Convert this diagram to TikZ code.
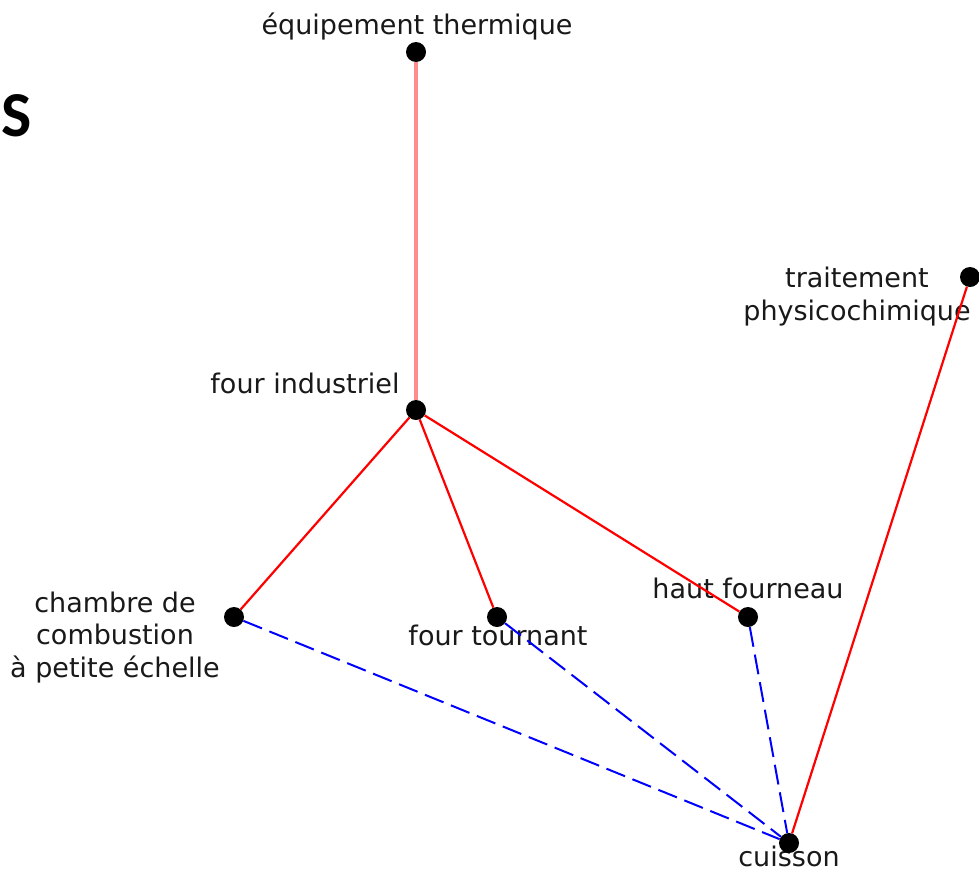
\documentclass[tikz,border=0pt]{standalone}
\usepackage{fontspec}
\setmainfont{DejaVu Sans}
\newfontfamily\titlefont{Carlito}
\begin{document}
\begin{tikzpicture}[x=1pt,y=-1pt,
  dot/.style={circle,fill=black,inner sep=0pt,minimum size=20pt},
  lbl/.style={inner sep=0pt,font=\fontsize{27}{32.5}\selectfont,text=black!90,align=center},
  link/.style={draw=red,line width=2.2pt},
  softlink/.style={draw={rgb,255:red,255;green,140;blue,140},line width=4pt},
  dashlink/.style={draw=blue,line width=2pt,dash pattern=on 20pt off 8pt}]
\useasboundingbox[fill=white] (0,0) rectangle (979,873);

% stray heading letter at the left edge
\node[anchor=base,inner sep=0pt,font=\titlefont\bfseries\fontsize{64}{64}\selectfont] (hd) at (17,136) {S};

% labels (multi-line labels are anchored at the baseline of their last line)
\node[lbl,anchor=base] (leq) at (417,34) {équipement thermique};
\node[lbl,anchor=base] (ltr) at (857,320) {traitement\\physicochimique};
\node[lbl,anchor=base] (lfi) at (305,393) {four industriel};
\node[lbl,anchor=base] (lch) at (115,677) {chambre de\\combustion\\à petite échelle};
\node[lbl,anchor=base] (lft) at (498,645) {four tournant};
\node[lbl,anchor=base] (lhf) at (748,598) {haut fourneau};
\node[lbl,anchor=base] (lcu) at (789,866) {cuisson};

% vertices
\node[dot] (eq) at (416,52) {};
\node[dot] (tr) at (970,277) {};
\node[dot] (fi) at (416,410) {};
\node[dot] (ch) at (234,617) {};
\node[dot] (ft) at (497,617) {};
\node[dot] (hf) at (748,617) {};
\node[dot] (cu) at (789,843) {};

% edges
\draw[softlink] (eq) -- (fi);
\draw[link] (fi) -- (ch);
\draw[link] (fi) -- (ft);
\draw[link] (fi) -- (hf);
\draw[link] (tr) -- (cu);
\draw[dashlink] (ch) -- (cu);
\draw[dashlink] (ft) -- (cu);
\draw[dashlink] (hf) -- (cu);
\end{tikzpicture}
\end{document}
